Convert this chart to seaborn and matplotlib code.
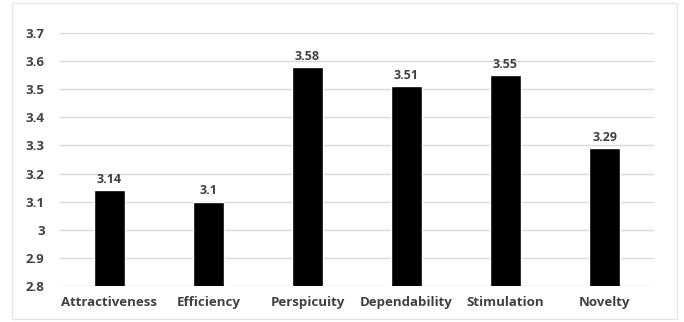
import matplotlib
matplotlib.use("Agg")
import matplotlib.pyplot as plt
import seaborn as sns
import pandas as pd

categories = ["Attractiveness", "Efficiency", "Perspicuity", "Dependability", "Stimulation", "Novelty"]
scores = [3.14, 3.1, 3.58, 3.51, 3.55, 3.29]
score_labels = ["3.14", "3.1", "3.58", "3.51", "3.55", "3.29"]
yticks = [2.8, 2.9, 3.0, 3.1, 3.2, 3.3, 3.4, 3.5, 3.6, 3.7]
ytick_labels = ["2.8", "2.9", "3", "3.1", "3.2", "3.3", "3.4", "3.5", "3.6", "3.7"]

df = pd.DataFrame({"Category": categories, "Score": scores})

sns.set_style("white")
plt.rcParams["font.family"] = ["Open Sans", "DejaVu Sans"]
text_color = "#404040"

fig = plt.figure(figsize=(6.84, 3.22), dpi=100)
ax = fig.add_axes([0.0877, 0.112, 0.8685, 0.7855])

sns.barplot(data=df, x="Category", y="Score", color="black", width=0.31,
            saturation=1, ax=ax, zorder=3)

ax.set_ylim(2.8, 3.7)
ax.set_xlim(-0.5, 5.5)
ax.set_yticks(yticks)
ax.set_yticklabels(ytick_labels)
ax.yaxis.grid(True, color="#d9d9d9", linewidth=1, zorder=0)
ax.set_axisbelow(True)
for s in ax.spines.values():
    s.set_visible(False)
ax.tick_params(axis="both", length=0, labelsize=9.5, labelcolor=text_color)
ax.tick_params(axis="x", pad=7)
ax.tick_params(axis="y", pad=11)
for lab in ax.get_xticklabels() + ax.get_yticklabels():
    lab.set_fontweight("bold")
ax.set_xlabel("")
ax.set_ylabel("")

for i, (v, t) in enumerate(zip(scores, score_labels)):
    ax.text(i, v + 0.015, t, ha="center", va="bottom", fontsize=9,
            fontweight="bold", color=text_color)

# faint chart-area border
fig.patches.append(plt.Rectangle((0.018, 0.01), 0.972, 0.98, transform=fig.transFigure,
                                 fill=False, edgecolor="#e6e6e6", linewidth=1))

fig.savefig("out.png", dpi=100)
